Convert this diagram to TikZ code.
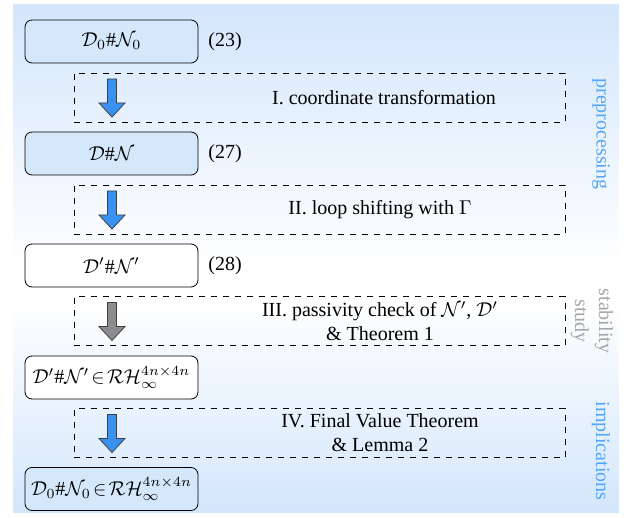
\documentclass[tikz,border=0pt]{standalone}
\usepackage{fontspec}
\setmainfont{Liberation Serif}
\usetikzlibrary{positioning}

\definecolor{bgblue}{RGB}{212,230,251}
\definecolor{boxblue}{RGB}{213,231,250}
\definecolor{arrblue}{RGB}{58,146,240}
\definecolor{lblblue}{RGB}{84,166,250}

\tikzset{
  stage/.style={draw,rounded corners=3.5pt,minimum width=86.5pt,minimum height=21.5pt,inner sep=1pt},
  stepframe/.style={draw,dashed,minimum width=245.5pt,minimum height=24.5pt},
  phase/.style={rotate=-90,align=center,inner sep=0pt},
  pics/fatarrow/.style={code={
    \draw[draw=black!75,fill=#1] (-2.25pt,9.5pt) -- (2.25pt,9.5pt) -- (2.25pt,-2.5pt)
        -- (6.5pt,-2.5pt) -- (0pt,-9.5pt) -- (-6.5pt,-2.5pt) -- (-2.25pt,-2.5pt) -- cycle;
  }},
  pics/fatarrow/.default=arrblue
}

\begin{document}
\begin{tikzpicture}[x=0.5pt,y=-0.5pt]
    \useasboundingbox (0,0) rectangle (626,518);

    % sfondo sfumato
    \shade[top color=bgblue,bottom color=white] (13,5) rectangle (619,270);
    \fill[white] (13,270) rectangle (619,300);
    \shade[top color=white,bottom color=bgblue] (13,300) rectangle (619,512);

    % i blocchi a sinistra
    \node[stage,fill=boxblue] (b1) at (111.5,41.5) {$\mathcal{D}_0\#\mathcal{N}_0$};
    \node[stage,fill=boxblue] (b2) at (111.5,153.5) {$\mathcal{D}\#\mathcal{N}$};
    \node[stage,fill=white] (b3) at (111.5,265.5) {$\mathcal{D}'\#\mathcal{N}'$};
    \node[stage,fill=white] (b4) at (111.5,377.5)
        {$\mathcal{D}'\#\mathcal{N}'\mskip2mu{\in}\mskip2mu\mathcal{RH}_\infty^{4n\times 4n}$};
    \node[stage,fill=boxblue] (b5) at (111.5,489)
        {$\mathcal{D}_0\#\mathcal{N}_0\mskip2mu{\in}\mskip2mu\mathcal{RH}_\infty^{4n\times 4n}$};

    % numeri delle equazioni
    \node[right=1.5pt of b1] (e1) {(23)};
    \node[right=1.5pt of b2] (e2) {(27)};
    \node[right=1.5pt of b3] (e3) {(28)};

    % i passi tratteggiati
    \node[stepframe] (s1) at (319.5,97.5) {};
    \node[stepframe] (s2) at (319.5,209.5) {};
    \node[stepframe] (s3) at (319.5,321) {};
    \node[stepframe] (s4) at (319.5,433) {};

    \node (t1) at (384,97.5) {I. coordinate transformation};
    \node (t2) at (380,209.5) {II. loop shifting with $\Gamma$};
    \node[align=center] (t3) at (380,321)
        {III. passivity check of $\mathcal{N}'$, $\mathcal{D}'$\\ \& Theorem 1};
    \node[align=center] (t4) at (380,433) {IV. Final Value Theorem\\ \& Lemma 2};

    % le frecce grosse
    \pic (a1) at (112,98) {fatarrow};
    \pic (a2) at (112,210) {fatarrow};
    \pic (a3) at (112,321.5) {fatarrow=black!45};
    \pic (a4) at (112,433.5) {fatarrow};

    % etichette delle fasi
    \node[phase,text=lblblue] (p1) at (601,134) {preprocessing};
    \node[phase,text=black!35] (p2) at (592,321) {stability\\ study};
    \node[phase,text=lblblue] (p3) at (601,451) {implications};
\end{tikzpicture}
\end{document}
